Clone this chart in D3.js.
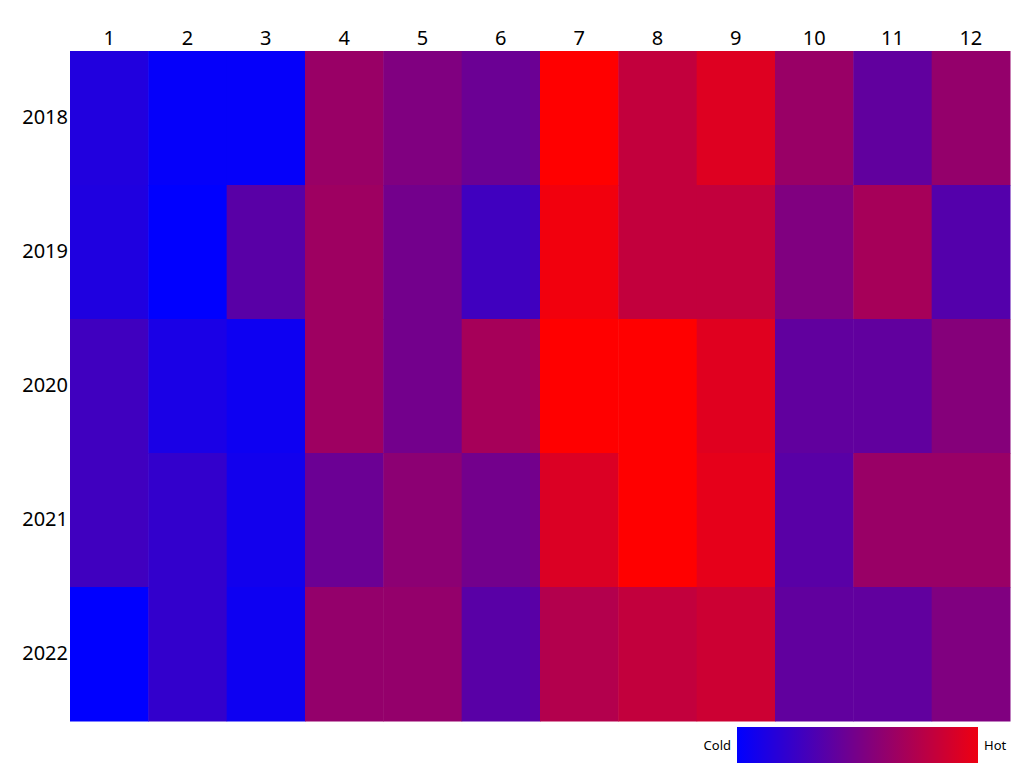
<!DOCTYPE html>
<html>
<head>
<meta charset="utf-8">
<script src="https://cdn.jsdelivr.net/npm/d3@7"></script>
<style>
  body { margin: 0; background: #fff; font-family: "Noto Sans", "Open Sans", sans-serif; }
</style>
</head>
<body>
<svg id="chart" width="1032" height="782"></svg>
<script>
const months = ["1", "2", "3", "4", "5", "6", "7", "8", "9", "10", "11", "12"];
const years = ["2018", "2019", "2020", "2021", "2022"];
const y2018 = [0.13, 0.02, 0.02, 0.60, 0.50, 0.42, 1.00, 0.76, 0.87, 0.60, 0.38, 0.58];
const y2019 = [0.12, 0.00, 0.35, 0.62, 0.45, 0.25, 0.95, 0.76, 0.76, 0.50, 0.65, 0.33];
const y2020 = [0.25, 0.10, 0.05, 0.62, 0.45, 0.65, 1.00, 1.00, 0.88, 0.38, 0.38, 0.52];
const y2021 = [0.25, 0.20, 0.07, 0.42, 0.55, 0.45, 0.86, 1.00, 0.90, 0.35, 0.60, 0.60];
const y2022 = [0.00, 0.20, 0.05, 0.58, 0.58, 0.35, 0.70, 0.76, 0.80, 0.38, 0.38, 0.50];
const rows = [y2018, y2019, y2020, y2021, y2022];

const svg = d3.select("#chart");
const margin = { top: 51, right: 22, bottom: 61, left: 70 };
const width = 1032 - margin.left - margin.right;
const height = 782 - margin.top - margin.bottom;

const x = d3.scaleBand().domain(months).range([0, width]);
const y = d3.scaleBand().domain(years).range([0, height]);
const color = d3.scaleLinear().domain([0, 1]).range(["#0000ff", "#ff0000"]);

const g = svg.append("g").attr("transform", `translate(${margin.left},${margin.top})`);

const cells = [];
years.forEach((yr, i) => rows[i].forEach((v, j) => cells.push({ yr, m: months[j], v })));

g.selectAll("rect.cell")
  .data(cells)
  .enter().append("rect")
  .attr("class", "cell")
  .attr("x", d => x(d.m))
  .attr("y", d => y(d.yr))
  .attr("width", x.bandwidth() + 0.5)
  .attr("height", y.bandwidth() + 0.5)
  .attr("fill", d => color(d.v));

const xAxisG = g.append("g").call(d3.axisTop(x).tickSize(0).tickPadding(6));
xAxisG.select(".domain").remove();
xAxisG.selectAll("text").attr("font-size", 20).attr("fill", "#000").attr("font-family", "Noto Sans, sans-serif");

const yAxisG = g.append("g").call(d3.axisLeft(y).tickSize(0).tickPadding(2));
yAxisG.select(".domain").remove();
yAxisG.selectAll("text").attr("font-size", 20).attr("fill", "#000").attr("font-family", "Noto Sans, sans-serif");

// legend
const defs = svg.append("defs");
const grad = defs.append("linearGradient").attr("id", "lg");
grad.append("stop").attr("offset", "0%").attr("stop-color", "#0000ff");
grad.append("stop").attr("offset", "100%").attr("stop-color", "#ee0011");
const lx = 737, ly = 727, lw = 241, lh = 36;
svg.append("rect").attr("x", lx).attr("y", ly).attr("width", lw).attr("height", lh).attr("fill", "url(#lg)");
svg.append("text").attr("x", lx - 6).attr("y", ly + lh / 2 + 5).attr("text-anchor", "end")
  .attr("font-size", 13).text("Cold");
svg.append("text").attr("x", lx + lw + 6).attr("y", ly + lh / 2 + 5)
  .attr("font-size", 13).text("Hot");
</script>
</body>
</html>
